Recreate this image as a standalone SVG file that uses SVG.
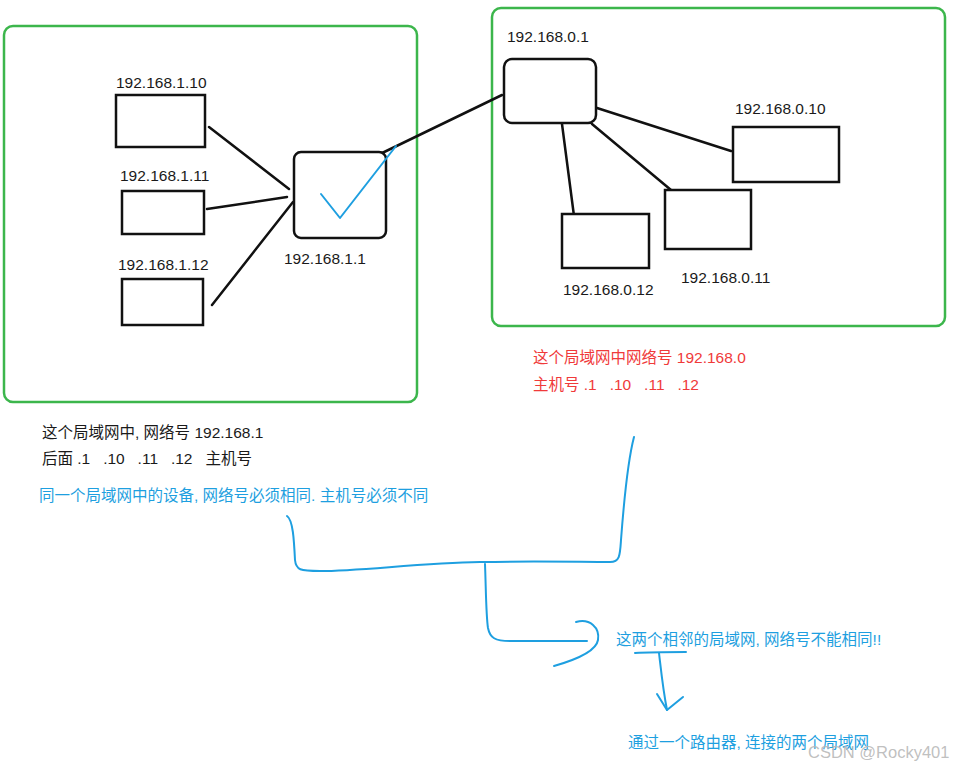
<svg xmlns="http://www.w3.org/2000/svg" width="964" height="771" viewBox="0 0 964 771">
<style>
text{font-family:"Liberation Sans","Noto Sans CJK SC",sans-serif;font-size:15.5px;fill:#1a1a1a}
.lan{fill:none;stroke:#3cb64c;stroke-width:2.5}
.box{fill:#fff;stroke:#111;stroke-width:2.5}
.wire{fill:none;stroke:#111;stroke-width:2.5;stroke-linecap:round}
.ink{fill:none;stroke:#1e9fe0;stroke-width:2;stroke-linecap:round;stroke-linejoin:round}
.red{fill:#f03a3a}
.blue{fill:#1e9fe0}
</style>
<rect width="964" height="771" fill="#fff"/>
<g id="lan1"><rect class="lan" x="4" y="26" width="413" height="376" rx="9"/></g>
<g id="lan0"><rect class="lan" x="492" y="8" width="453" height="318" rx="9"/></g>
<g id="connectors">
<line class="wire" x1="209" y1="127" x2="289" y2="189"/>
<line class="wire" x1="207" y1="209" x2="287" y2="197"/>
<line class="wire" x1="212" y1="305" x2="293" y2="202"/>
<line class="wire" x1="378" y1="155" x2="502" y2="95"/>
<line class="wire" x1="597" y1="108" x2="731" y2="151"/>
<line class="wire" x1="592" y1="124" x2="671" y2="190"/>
<line class="wire" x1="562" y1="124" x2="574" y2="216"/>
</g>
<g id="host-1-10"><rect class="box" x="116" y="95" width="89" height="52"/><text x="116" y="88">192.168.1.10</text></g>
<g id="host-1-11"><rect class="box" x="122" y="191" width="82" height="43"/><text x="120" y="181">192.168.1.11</text></g>
<g id="host-1-12"><rect class="box" x="122" y="279" width="81" height="46"/><text x="118" y="270">192.168.1.12</text></g>
<g id="router-1-1"><rect class="box" x="294" y="152" width="92" height="86" rx="7"/><text x="284" y="264">192.168.1.1</text>
<polyline class="ink" points="321,194 340,218 396,146"/></g>
<g id="router-0-1"><rect class="box" x="504" y="59" width="92" height="64" rx="8"/><text x="507" y="42">192.168.0.1</text></g>
<g id="host-0-10"><rect class="box" x="733" y="127" width="106" height="55"/><text x="735" y="114">192.168.0.10</text></g>
<g id="host-0-11"><rect class="box" x="665" y="190" width="86" height="59"/><text x="681" y="283">192.168.0.11</text></g>
<g id="host-0-12"><rect class="box" x="562" y="214" width="87" height="54"/><text x="563" y="295">192.168.0.12</text></g>
<g id="note-lan0">
<text class="red" x="533" y="363">这个局域网中网络号 192.168.0</text>
<text class="red" x="533" y="390" xml:space="preserve">主机号 .1   .10   .11   .12</text>
</g>
<g id="note-lan1">
<text x="42" y="438">这个局域网中, 网络号 192.168.1</text>
<text x="42" y="464" xml:space="preserve">后面 .1   .10   .11   .12   主机号</text>
<text class="blue" x="39" y="501">同一个局域网中的设备, 网络号必须相同. 主机号必须不同</text>
</g>
<g id="annotations">
<path class="ink" d="M287,516 C293,520 294,540 295,560 C296,570 300,571 320,571 C360,571 420,563 480,562 C540,561 580,562 610,562 C620,562 620,555 621,540 C624,500 628,460 634,437"/>
<path class="ink" d="M485,564 C486,590 486,615 488,628 C490,638 495,641 510,641 L587,641"/>
<path class="ink" d="M576,622 C590,618 600,628 598,640 C596,652 575,660 554,666"/>
<text class="blue" x="616" y="645">这两个相邻的局域网, 网络号不能相同!!</text>
<path class="ink" d="M635,653 C650,652 670,652 686,652"/>
<path class="ink" d="M659,653 C661,670 663,690 667,710"/>
<polyline class="ink" points="657,694 667,710 683,697"/>
<text class="blue" x="628" y="748">通过一个路由器, 连接的两个局域网</text>
</g>
<text x="808" y="758" style="font-size:16.5px;fill:#b8b8b8;fill-opacity:0.9">CSDN @Rocky401</text>
</svg>
